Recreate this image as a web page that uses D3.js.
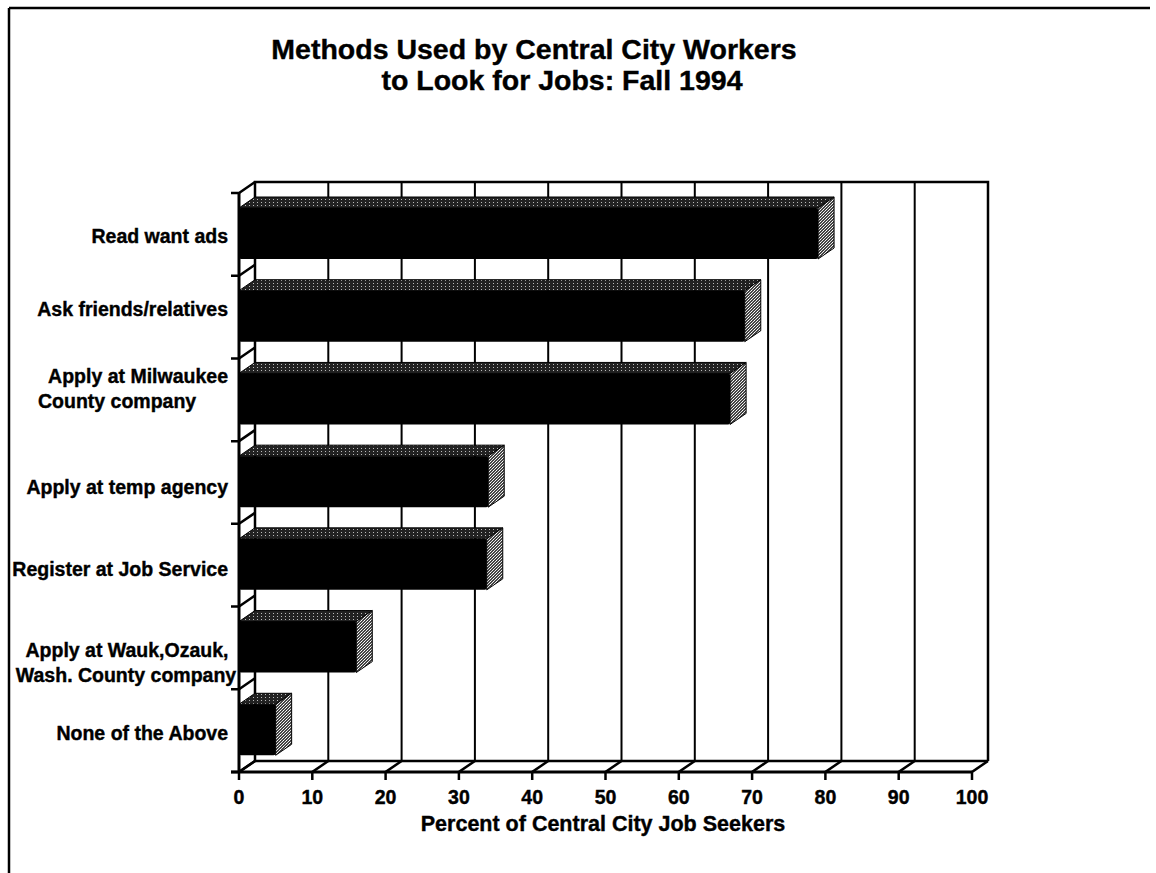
<!DOCTYPE html>
<html>
<head>
<meta charset="utf-8">
<script src="https://cdn.jsdelivr.net/npm/d3@7"></script>
<style>
  body { margin: 0; background: #fff; }
  text { font-family: "Liberation Sans", Arial, Helvetica, sans-serif; font-weight: bold; fill: #000; stroke: #000; stroke-width: 0.4; }
</style>
</head>
<body>
<div id="chart"></div>
<script>
// data
var categories = ["Read want ads", "Ask friends/relatives", "Apply at Milwaukee County company",
    "Apply at temp agency", "Register at Job Service", "Apply at Wauk,Ozauk, Wash. County company",
    "None of the Above"];
var labelLines = [["Read want ads"], ["Ask friends/relatives"], ["Apply at Milwaukee", "County company"],
    ["Apply at temp agency"], ["Register at Job Service"], ["Apply at Wauk,Ozauk,", "Wash. County company"],
    ["None of the Above"]];
var values = [79, 69, 67, 34, 33.8, 16, 5];
var ticks = [0, 10, 20, 30, 40, 50, 60, 70, 80, 90, 100];
var titleLines = ["Methods Used by Central City Workers", "to Look for Jobs: Fall 1994"];
var xTitle = "Percent of Central City Job Seekers";

var W = 1156, H = 873;
var dx = 16, dy = -11;   // depth of the 3d box

var svg = d3.select("#chart").append("svg").attr("width", W).attr("height", H);

var defs = svg.append("defs");
var pTop = defs.append("pattern").attr("id", "ptop").attr("width", 4).attr("height", 3).attr("patternUnits", "userSpaceOnUse");
pTop.append("rect").attr("width", 4).attr("height", 3).attr("fill", "#222");
pTop.append("rect").attr("x", 1).attr("y", 1).attr("width", 1).attr("height", 1).attr("fill", "#bbb");
var pSide = defs.append("pattern").attr("id", "pside").attr("width", 3).attr("height", 3).attr("patternUnits", "userSpaceOnUse");
pSide.append("rect").attr("width", 3).attr("height", 3).attr("fill", "#444");
pSide.append("rect").attr("x", 0).attr("y", 0).attr("width", 1).attr("height", 1).attr("fill", "#eee");
pSide.append("rect").attr("x", 2).attr("y", 1).attr("width", 1).attr("height", 1).attr("fill", "#ddd");
pSide.append("rect").attr("x", 1).attr("y", 2).attr("width", 1).attr("height", 1).attr("fill", "#fff");

var x = d3.scaleLinear().domain([0, 100]).range([239, 972]);
var y = d3.scaleBand().domain(categories).range([193, 772]);

var x0 = x(0), x1 = x(100), yT = y.range()[0], yB = y.range()[1];

// page frame
svg.append("line").attr("x1", 9).attr("x2", 1150).attr("y1", 8).attr("y2", 8).attr("stroke", "#000").attr("stroke-width", 2.5);
svg.append("line").attr("x1", 9).attr("x2", 9).attr("y1", 8).attr("y2", H).attr("stroke", "#000").attr("stroke-width", 2.5);

// title
var titleX = [534, 562];
svg.append("g").selectAll("text").data(titleLines).enter().append("text")
    .attr("x", function(d, i){ return titleX[i]; }).attr("y", function(d, i){ return 59 + i * 31; })
    .attr("text-anchor", "middle").attr("font-size", 28.5).text(function(d){ return d; });

var frame = svg.append("g").attr("fill", "none").attr("stroke", "#000");

// back wall grid lines
frame.selectAll(".grid").data(ticks.slice(1, -1)).enter().append("line")
    .attr("x1", function(d){ return x(d) + dx; }).attr("x2", function(d){ return x(d) + dx; })
    .attr("y1", yT + dy).attr("y2", yB + dy).attr("stroke-width", 2);

// back wall outline
frame.append("path").attr("stroke-width", 2.5)
    .attr("d", "M" + (x0 + dx) + "," + (yB + dy) + "V" + (yT + dy) + "H" + (x1 + dx) + "V" + (yB + dy));

// left wall
frame.append("line").attr("x1", x0).attr("x2", x0).attr("y1", yT).attr("y2", yB).attr("stroke-width", 3);
var bounds = categories.map(function(c){ return y(c); }).concat([yB]);
frame.selectAll(".lw").data(bounds).enter().append("path").attr("stroke-width", 2.5)
    .attr("d", function(d){ return "M" + (x0 - 8) + "," + d + "H" + x0 + "l" + dx + "," + dy; });

// floor
frame.append("line").attr("x1", x0 + dx).attr("x2", x1 + dx).attr("y1", yB + dy).attr("y2", yB + dy).attr("stroke-width", 2.5);
frame.append("line").attr("x1", x0 - 8).attr("x2", x1).attr("y1", yB).attr("y2", yB).attr("stroke-width", 3);
frame.selectAll(".fl").data(ticks).enter().append("path").attr("stroke-width", 2.5)
    .attr("d", function(d){ return "M" + x(d) + "," + (yB + 8) + "V" + yB + "l" + dx + "," + dy; });

// tick labels
svg.append("g").selectAll("text").data(ticks).enter().append("text")
    .attr("x", function(d){ return x(d); }).attr("y", 804)
    .attr("text-anchor", "middle").attr("font-size", 19.5).text(function(d){ return d; });

svg.append("text").attr("x", 603).attr("y", 831).attr("text-anchor", "middle")
    .attr("font-size", 21.5).text(xTitle);

// bars
var barTop = 15, barH = 51;
var bars = svg.append("g").selectAll("g").data(values).enter().append("g");
bars.append("path").attr("fill", "url(#ptop)").attr("stroke", "#000").attr("stroke-width", 1)
    .attr("d", function(d, i){
        var t = y(categories[i]) + barTop;
        return "M" + x0 + "," + t + "l" + dx + "," + dy + "H" + (x(d) + dx) + "l" + (-dx) + "," + (-dy) + "Z";
    });
bars.append("path").attr("fill", "url(#pside)").attr("stroke", "#000").attr("stroke-width", 1)
    .attr("d", function(d, i){
        var t = y(categories[i]) + barTop;
        return "M" + x(d) + "," + t + "l" + dx + "," + dy + "v" + barH + "l" + (-dx) + "," + (-dy) + "Z";
    });
bars.append("rect").attr("fill", "#000").attr("rx", 2)
    .attr("x", x0).attr("y", function(d, i){ return y(categories[i]) + barTop; })
    .attr("width", function(d){ return x(d) - x0; }).attr("height", barH);

// category labels (placement nudges as in the scan)
var labelShift = [2, -8, -12, 4, 4, 14, 2];
var labelPos = [[[228, "end"]], [[228, "end"]], [[228, "end"], [38, "start"]], [[228, "end"]],
    [[228, "end"]], [[127, "middle"], [126, "middle"]], [[228, "end"]]];
var lab = svg.append("g").selectAll("text").data(labelLines).enter().append("text")
    .attr("font-size", 19.5)
    .attr("y", function(d, i){ return y(categories[i]) + y.bandwidth() / 2 + 7 + labelShift[i] - (d.length - 1) * 12; });
lab.selectAll("tspan").data(function(d, i){
        return d.map(function(s, j){ return {s: s, p: labelPos[i][j]}; });
    }).enter().append("tspan")
    .attr("x", function(d){ return d.p[0]; }).attr("text-anchor", function(d){ return d.p[1]; })
    .attr("dy", function(d, j){ return j ? 25 : 0; }).text(function(d){ return d.s; });
</script>
</body>
</html>
